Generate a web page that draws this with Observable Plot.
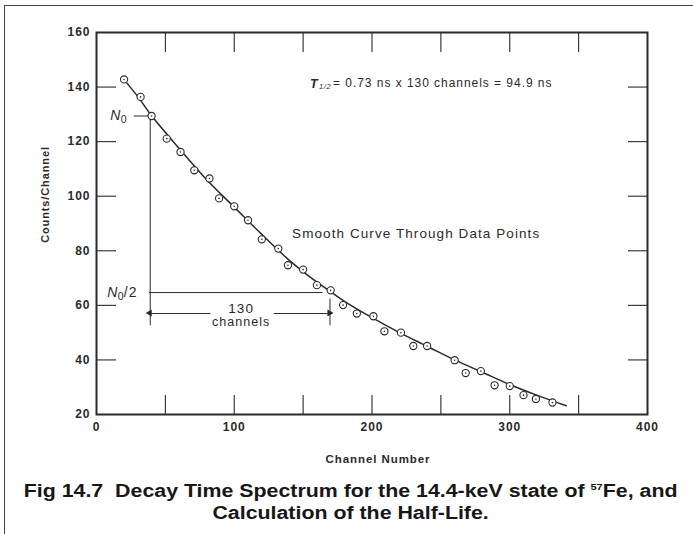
<!DOCTYPE html>
<html>
<head>
<meta charset="utf-8">
<script src="https://cdn.jsdelivr.net/npm/d3@7"></script>
<script src="https://cdn.jsdelivr.net/npm/@observablehq/plot@0.6"></script>
<style>
  body { margin: 0; background: #fff; }
  #wrap { position: relative; width: 693px; height: 534px; overflow: hidden; font-family: "Liberation Sans", Arial, sans-serif; }
  #topline { position: absolute; left: 4px; top: 5px; width: 689px; height: 0; border-top: 1.4px solid #444; }
  #leftline { position: absolute; left: 4px; top: 5px; width: 0; height: 529px; border-left: 1.4px solid #444; }
  #chart { position: absolute; left: 0; top: 0; }
  #chart svg text { letter-spacing: 0.08em; }
  #caption { position: absolute; left: 4px; top: 476px; width: 693px; text-align: center; font-weight: bold; font-size: 17.5px; line-height: 22px; color: #161616; white-space: nowrap; transform: scaleX(1.22); transform-origin: 346px 0; }
  #caption sup { font-size: 9px; vertical-align: 7px; }
</style>
</head>
<body>
<div id="wrap">
  <div id="topline"></div>
  <div id="leftline"></div>
  <div id="chart"></div>
  <div id="caption">Fig 14.7&nbsp; Decay Time Spectrum for the 14.4-keV state of <sup>57</sup>Fe, and<br>Calculation of the Half-Life.</div>
</div>
<script>
// Measured data points (channel number, counts per channel)
const channels = [20, 32, 40, 51, 61, 71, 82, 89, 100, 110, 120, 132, 139, 150, 160, 170, 179, 189, 201, 209, 221, 230, 240, 260, 268, 279, 289, 300, 310, 319, 331];
const counts   = [142.8, 136.4, 129.4, 121.1, 116.2, 109.5, 106.5, 99.2, 96.3, 91.2, 84.2, 80.8, 74.7, 73.1, 67.4, 65.5, 60.1, 57.0, 56.0, 50.5, 50.0, 45.1, 45.1, 39.9, 35.2, 35.9, 30.7, 30.4, 27.1, 25.7, 24.4];

// Smooth curve through data points
const curveChannels = [19.5, 30, 40, 60, 80, 100, 120, 140, 160, 170, 180, 200, 220, 240, 260, 280, 300, 320, 341];
const curveCounts   = [143, 136.5, 129.5, 117.5, 106, 96, 86, 76.5, 68.5, 65, 61.5, 55.5, 50, 45, 40, 35.5, 31, 27, 23.2];

// Tick values
const xLabelTicks = [0, 100, 200, 300, 400];
const xInnerTicks = [50, 100, 150, 200, 250, 300, 350];
const yLabelTicks = [20, 40, 60, 80, 100, 120, 140, 160];
const yInnerTicks = [40, 60, 80, 100, 120, 140];

// Half-life construction values
const n0Channel = 39;      // channel of N0
const n0 = 129.4;          // N0
const halfChannel = 169.5; // channel of N0/2 (39 + 130)
const halfCount = 64.7;    // N0/2
const arrowCount = 57;
const dropBottom = 52.7;

const points = channels.map((c, i) => ({channel: c, count: counts[i]}));
const curve = curveChannels.map((c, i) => ({channel: c, count: curveCounts[i]}));

const segments = [
  {x1: 27, y1: n0, x2: n0Channel, y2: n0},
  {x1: n0Channel, y1: n0, x2: n0Channel, y2: dropBottom},
  {x1: n0Channel - 1, y1: halfCount, x2: halfChannel - 5.5, y2: halfCount},
  {x1: halfChannel, y1: 62.5, x2: halfChannel, y2: dropBottom},
  {x1: n0Channel, y1: arrowCount, x2: 82.7, y2: arrowCount},
  {x1: 128.7, y1: arrowCount, x2: halfChannel, y2: arrowCount}
];
const heads = [
  {x: n0Channel, y: arrowCount, rot: -90, dx: 4.5},
  {x: halfChannel, y: arrowCount, rot: 90, dx: -4.5}
];

const ink = "#2a2a2a";
const font = "Liberation Sans, Arial, Helvetica, sans-serif";

const chart = Plot.plot({
  width: 693,
  height: 472,
  marginLeft: 96,
  marginRight: 46,
  marginTop: 32,
  marginBottom: 58,
  style: {fontFamily: font, color: ink, background: "transparent", overflow: "visible"},
  x: {domain: [0, 400]},
  y: {domain: [20, 160]},
  marks: [
    Plot.axisX({anchor: "bottom", ticks: xLabelTicks, tickSize: 0, tickPadding: 8, fontSize: 12, fontWeight: "bold", label: null}),
    Plot.axisX({anchor: "bottom", ticks: xInnerTicks, tickSize: 19, dy: -19, tickFormat: () => "", label: null, strokeWidth: 1.1}),
    Plot.axisX({anchor: "top", ticks: xInnerTicks, tickSize: 19, dy: 19, tickFormat: () => "", label: null, strokeWidth: 1.1}),
    Plot.axisY({anchor: "left", ticks: yLabelTicks, tickSize: 0, tickPadding: 6, fontSize: 12, fontWeight: "bold", label: null}),
    Plot.axisY({anchor: "left", ticks: yInnerTicks, tickSize: 20, dx: 20, tickFormat: () => "", label: null, strokeWidth: 1.1}),
    Plot.axisY({anchor: "right", ticks: yInnerTicks, tickSize: 20, dx: -20, tickFormat: () => "", label: null, strokeWidth: 1.1}),
    Plot.frame({stroke: ink, strokeWidth: 2}),
    Plot.text(["Counts/Channel"], {frameAnchor: "left", textAnchor: "middle", dx: -51, dy: -29, rotate: -90, fontSize: 11, fontWeight: "bold", fill: ink}),
    Plot.text(["Channel Number"], {frameAnchor: "bottom", textAnchor: "middle", dx: 6, dy: 48, fontSize: 11.5, fontWeight: "bold", fill: ink}),
    // construction lines
    Plot.link(segments, {x1: "x1", y1: "y1", x2: "x2", y2: "y2", stroke: ink, strokeWidth: 1}),
    Plot.dot(heads, {x: "x", y: "y", dx: "dx", symbol: "triangle", rotate: "rot", r: 2.6, fill: ink, stroke: "none"}),
    // curve and data
    Plot.line(curve, {x: "channel", y: "count", curve: "catmull-rom", stroke: ink, strokeWidth: 1.5}),
    Plot.dot(points, {x: "channel", y: "count", r: 3.6, fill: "white", stroke: ink, strokeWidth: 1.1}),
    Plot.dot(points, {x: "channel", y: "count", r: 0.8, fill: ink}),
    // labels
    Plot.text(["N"], {x: n0Channel, y: n0, dx: -40, textAnchor: "start", fontSize: 14, fontStyle: "italic", fill: ink}),
    Plot.text(["0"], {x: n0Channel, y: n0, dx: -29.5, dy: 4, textAnchor: "start", fontSize: 10.5, fill: ink}),
    Plot.text(["N"], {x: n0Channel, y: halfCount, dx: -43, textAnchor: "start", fontSize: 14, fontStyle: "italic", fill: ink}),
    Plot.text(["0"], {x: n0Channel, y: halfCount, dx: -32.5, dy: 4, textAnchor: "start", fontSize: 10.5, fill: ink}),
    Plot.text(["/2"], {x: n0Channel, y: halfCount, dx: -26.5, textAnchor: "start", fontSize: 14, fill: ink}),
    Plot.text(["130"], {x: 105, y: arrowCount, dy: -5, fontSize: 13.5, fill: ink}),
    Plot.text(["channels"], {x: 105, y: arrowCount, dy: 8.5, fontSize: 12.5, fill: ink}),
    Plot.text(["Smooth Curve Through Data Points"], {x: 142, y: 86.4, textAnchor: "start", fontSize: 13.5, fill: ink}),
    Plot.text(["T"], {x: 155, y: 141.3, textAnchor: "start", fontSize: 12.5, fontWeight: "bold", fontStyle: "italic", fill: ink}),
    Plot.text(["1/2"], {x: 155, y: 141.3, dx: 9, dy: 3, textAnchor: "start", fontSize: 7.5, fontStyle: "italic", fill: ink}),
    Plot.text(["= 0.73 ns x 130 channels = 94.9 ns"], {x: 155, y: 141.3, dx: 23, textAnchor: "start", fontSize: 12, fill: ink})
  ]
});
document.getElementById("chart").appendChild(chart);
</script>
</body>
</html>
